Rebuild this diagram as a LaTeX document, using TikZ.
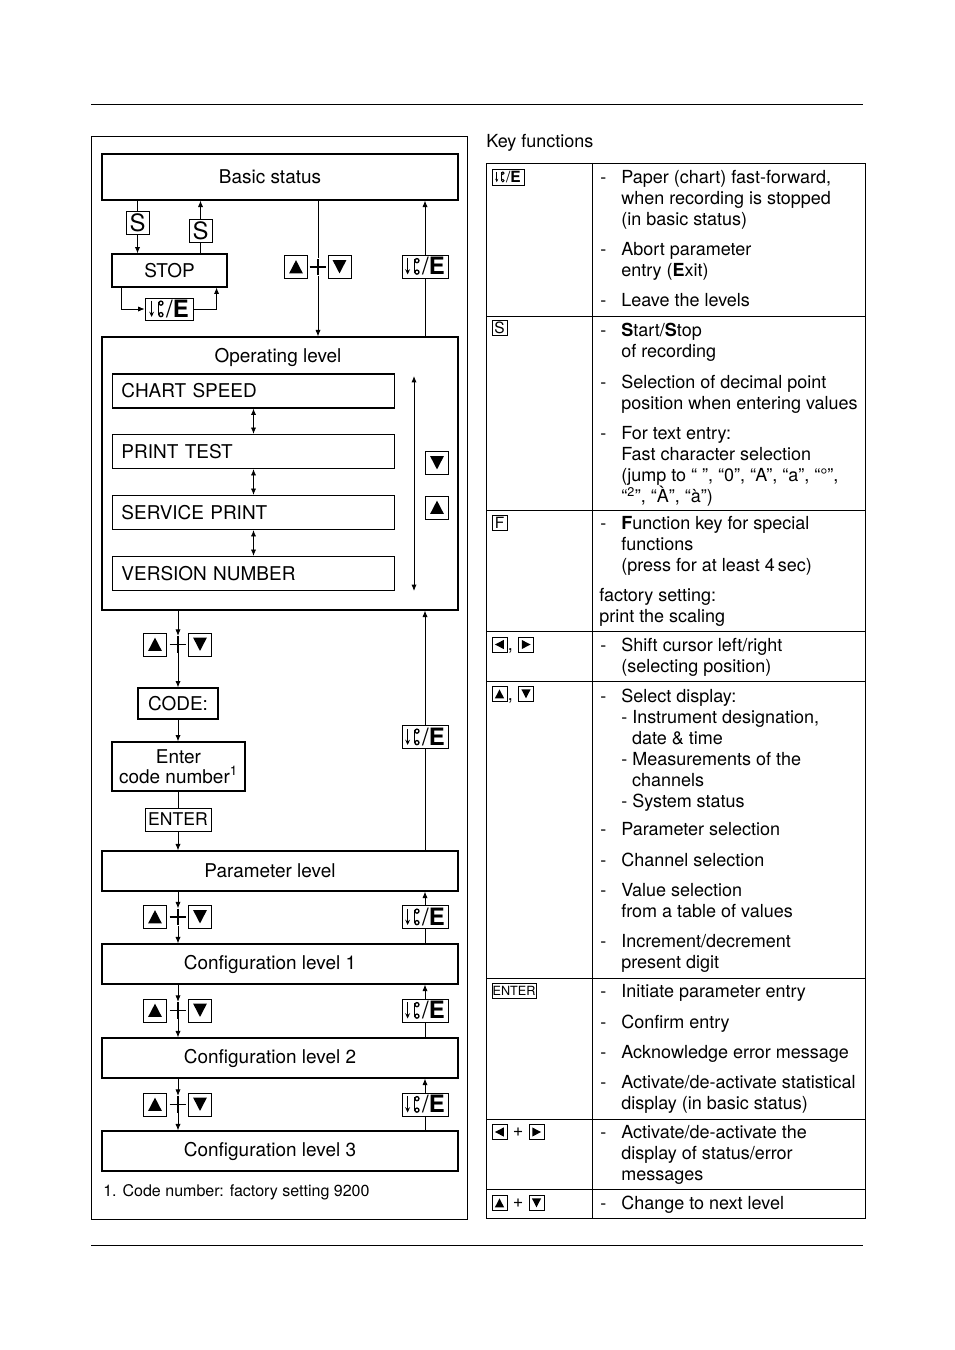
\documentclass[tikz,border=0pt]{standalone}
\usepackage{fontspec}
\setmainfont{TeX Gyre Heros}
\usetikzlibrary{arrows.meta,calc,positioning}

\newcommand{\diagfont}{\fontsize{13.5}{14}\selectfont}
\newcommand{\tabfont}{\fontsize{12.8}{14.9}\selectfont}
\newcommand{\keyfont}{\fontsize{17}{17}\selectfont}
\newcommand{\smallkeyfont}{\fontsize{11}{11}\selectfont}
\newcommand{\footfont}{\fontsize{11.4}{13}\selectfont}

% paper feed symbol, drawn in em units
\newcommand{\feedsym}{\tikz[baseline=0pt,x=1em,y=1em,line width=0.055em]{%
    \draw[-{Stealth[length=0.22em,width=0.2em]}] (0,0.7) -- (0,0.02);
    \draw (0.3,0.1) -- (0.3,0.66);
    \draw (0.39,0.6) circle (0.085);
    \draw (0.39,0.12) circle (0.085);}}
\newcommand{\feedE}{\feedsym\kern0.1em/\textbf{E}}

\tikzset{
  frame/.style={line width=0.6pt},
  level/.style={draw, line width=0.9pt, minimum width=89mm, minimum height=10mm, font=\diagfont,
    execute at end node={\hspace*{5mm}}},
  box/.style={draw, line width=0.8pt, inner sep=1pt, font=\diagfont},
  entry/.style={draw, line width=0.8pt, minimum height=8.5mm, text width=66mm,
    inner xsep=2.25mm, align=left, font=\diagfont},
  key/.style={draw, line width=0.6pt, inner sep=0pt, minimum size=5.75mm},
  feedkey/.style={key, minimum width=11.5mm, font=\keyfont},
  letterkey/.style={key, font=\keyfont},
  smallkey/.style={minimum size=3.8mm, line width=0.5pt, font=\smallkeyfont},
  tri/.style n args={6}{path picture={\fill let \p1=(path picture bounding box.south west),
      \p2=(path picture bounding box.north east) in
      ({\x1+#1*(\x2-\x1)},{\y1+#2*(\y2-\y1)}) --
      ({\x1+#3*(\x2-\x1)},{\y1+#4*(\y2-\y1)}) --
      ({\x1+#5*(\x2-\x1)},{\y1+#6*(\y2-\y1)}) -- cycle;}},
  upkey/.style={key, tri={.2}{.22}{.8}{.22}{.5}{.8}},
  downkey/.style={key, tri={.2}{.8}{.8}{.8}{.5}{.22}},
  leftkey/.style={key, tri={.78}{.2}{.78}{.8}{.2}{.5}},
  rightkey/.style={key, tri={.22}{.2}{.22}{.8}{.8}{.5}},
  plussign/.style={minimum size=4.2mm, inner sep=0pt, path picture={
      \draw[line width=0.9pt] (path picture bounding box.north) -- (path picture bounding box.south)
      (path picture bounding box.west) -- (path picture bounding box.east);}},
  conn/.style={line width=0.6pt},
  arr/.style={conn, -{Latex[length=1.6mm,width=1.3mm]}},
  dbl/.style={conn, {Latex[length=1.6mm,width=1.3mm]}-{Latex[length=1.6mm,width=1.3mm]}},
  dashmark/.style={anchor=base west, inner sep=0pt, font=\tabfont},
  itemtext/.style={anchor=north west, yshift=10.43pt, inner sep=0pt, align=left, font=\tabfont},
  tab/.style={line width=0.6pt}
}

% one item of the key table: name, baseline, text
\newcommand{\keyitem}[3]{%
  \node[dashmark] (#1dash) at (600,#2) {-};
  \node[itemtext] (#1) at (621,#2) {\strut#3};}

\begin{document}
\begin{tikzpicture}[x=0.25mm,y=-0.25mm]
  \useasboundingbox (0,0) rectangle (954,1350);

  % page rules
  \draw[frame] (91,104) -- (863,104);
  \draw[frame] (91,1245) -- (863,1245);

  % left frame
  \draw[frame] (91,136) rectangle (467,1219);

  % basic status and stop
  \node[level, minimum height=11.5mm] (basic) at (280,177) {Basic status};
  \node[letterkey] (s1) at (137.5,223) {S};
  \node[letterkey] (s2) at (200.5,231) {S};
  \node[box, minimum width=28.75mm, minimum height=8.25mm] (stop) at (169.5,270.5) {STOP};
  \node[feedkey, minimum width=12mm, minimum height=5.5mm] (fstop) at (169,309) {\feedE};

  \draw[conn] (basic.south -| s1) -- (s1);
  \draw[arr] (s1) -- (s1 |- stop.north);
  \draw[conn] (stop.north -| s2) -- (s2);
  \draw[arr] (s2) -- (s2 |- basic.south);
  \draw[arr] ([xshift=2.5mm]stop.south west) |- (fstop.west);
  \draw[arr] (fstop.east) -| ([xshift=-2.75mm]stop.south east);

  % operating level
  \node[level, minimum height=68.25mm, execute at end node={}] (oper) at (280,473.5) {};
  \node[font=\diagfont] (opertitle) at (278,357) {Operating level};
  \node[entry] (chart) at (253.5,391) {CHART SPEED};
  \node[entry] (print) at (253.5,451.5) {PRINT TEST};
  \node[entry] (service) at (253.5,512.5) {SERVICE PRINT};
  \node[entry] (version) at (253.5,573.5) {VERSION NUMBER};
  \draw[dbl] (chart) -- (print);
  \draw[dbl] (print) -- (service);
  \draw[dbl] (service) -- (version);
  \coordinate (optop) at (414,376);
  \coordinate (opbot) at (414,591);
  \draw[dbl] (optop) -- (opbot);
  \node[downkey] (opdown) at (437,463) {};
  \node[upkey] (opup) at (437,507.5) {};

  % basic status -> operating level
  \node[upkey] (mu) at (296,267) {};
  \node[plussign] (mp) at (318,267) {};
  \node[downkey] (md) at (339.5,267) {};
  \draw[conn] (basic.south -| mp) -- (mp.north);
  \draw[arr] (mp.south) -- (mp |- oper.north);
  \node[feedkey] (f1) at (425,266.5) {\feedE};
  \draw[conn] (oper.north -| f1) -- (f1);
  \draw[arr] (f1) -- (f1 |- basic.south);

  % code entry
  \node[upkey] (cu) at (155,644.5) {};
  \node[plussign] (cp) at (178,644.5) {};
  \node[downkey] (cd) at (200,644.5) {};
  \draw[arr] (oper.south -| cp) -- (cp.north);
  \node[box, minimum width=20mm, minimum height=7.75mm] (code) at (178,703.5) {CODE:};
  \draw[arr] (cp.south) -- (code.north);
  \node[box, align=center, minimum width=33.25mm, minimum height=12.25mm] (enter) at (178.5,766.5)
    {Enter\\code number\textsuperscript{1}};
  \draw[arr] (code.south) -- (code.south |- enter.north);
  \node[key, minimum width=16.5mm, font=\fontsize{12.5}{12.5}\selectfont] (ek) at (178,819.5) {ENTER};
  \draw[conn] (enter.south -| ek) -- (ek);

  % parameter and configuration levels
  \node[level] (param) at (280,871) {Parameter level};
  \node[level] (conf1) at (280,964) {Configuration level 1};
  \node[level] (conf2) at (280,1058) {Configuration level 2};
  \node[level] (conf3) at (280,1151) {Configuration level 3};
  \draw[arr] (ek) -- (ek |- param.north);

  \node[feedkey] (f2) at (425,737) {\feedE};
  \draw[conn] (param.north -| f2) -- (f2);
  \draw[arr] (f2) -- (f2 |- oper.south);

  \foreach \upperlvl/\lowerlvl/\yk [count=\i] in {param/conf1/917, conf1/conf2/1010.5, conf2/conf3/1104.5}
  {
    \node[upkey] (lu\i) at (155,\yk) {};
    \node[plussign] (lp\i) at (178,\yk) {};
    \node[downkey] (ld\i) at (200,\yk) {};
    \node[feedkey] (lf\i) at (425,\yk) {\feedE};
    \draw[arr] (\upperlvl.south -| lp\i) -- (lp\i.north);
    \draw[arr] (lp\i.south) -- (lp\i |- \lowerlvl.north);
    \draw[conn] (\lowerlvl.north -| lf\i) -- (lf\i);
    \draw[arr] (lf\i) -- (lf\i |- \upperlvl.south);
  }

  \node[anchor=base west, inner sep=0pt, font=\footfont] (note) at (103,1196)
    {1. Code number: factory setting 9200};

  % key functions table
  \node[anchor=base west, inner sep=0pt, font=\tabfont] (keyhead) at (486,148) {Key functions};
  \draw[tab] (486,163) rectangle (865,1218);
  \draw[tab] (592,163) -- (592,1218);
  \foreach \y in {316,510,631,681,978,1119,1189}
    \draw[tab] (486,\y) -- (865,\y);

  \node[feedkey, smallkey, minimum width=8mm, minimum height=4mm] (tfeed) at (508,177) {\feedE};
  \node[letterkey, smallkey] (tstart) at (499.5,328) {S};
  \node[letterkey, smallkey] (tfunc) at (499.5,523) {F};
  \node[leftkey, smallkey] (tleft) at (499.5,644.5) {};
  \node[dashmark] (tcomma1) at (507.5,650) {,};
  \node[rightkey, smallkey] (tright) at (526,644.5) {};
  \node[upkey, smallkey] (tup) at (499.5,694) {};
  \node[dashmark] (tcomma2) at (507.5,700) {,};
  \node[downkey, smallkey] (tdown) at (526,694) {};
  \node[key, smallkey, minimum width=11mm, font=\fontsize{9}{9}\selectfont] (tenter) at (514,990.5) {ENTER};
  \node[leftkey, smallkey] (tleft2) at (499.5,1132) {};
  \node[font=\tabfont, inner sep=0pt] (tplus1) at (518,1132) {+};
  \node[rightkey, smallkey] (tright2) at (536.5,1132) {};
  \node[upkey, smallkey] (tup2) at (499.5,1203) {};
  \node[font=\tabfont, inner sep=0pt] (tplus2) at (518,1203) {+};
  \node[downkey, smallkey] (tdown2) at (536.5,1203) {};

  \keyitem{paper}{183}{Paper (chart) fast-forward,\\when recording is stopped\\(in basic status)}
  \keyitem{abort}{255}{Abort parameter\\entry (\textbf{E}xit)}
  \keyitem{leave}{306}{Leave the levels}
  \keyitem{startstop}{336}{\textbf{S}tart/\textbf{S}top\\of recording}
  \keyitem{decimal}{388}{Selection of decimal point\\position when entering values}
  \keyitem{textentry}{439}{For text entry:\\Fast character selection\\(jump to “ ”, “0”, “A”, “a”, “°”,\\“\textsuperscript{2}”, “À”, “à”)}
  \keyitem{function}{529}{\textbf{F}unction key for special\\functions\\(press for at least 4\,sec)}
  \node[itemtext] (factory) at (599,601) {\strut factory setting:\\print the scaling};
  \keyitem{cursor}{651}{Shift cursor left/right\\(selecting position)}
  \keyitem{display}{702}{Select display:\\- Instrument designation,\\\hspace*{0.6em}date \& time\\- Measurements of the\\\hspace*{0.6em}channels\\- System status}
  \keyitem{parsel}{835}{Parameter selection}
  \keyitem{chansel}{866}{Channel selection}
  \keyitem{valsel}{896}{Value selection\\from a table of values}
  \keyitem{incr}{947}{Increment/decrement\\present digit}
  \keyitem{initiate}{997}{Initiate parameter entry}
  \keyitem{confirm}{1028}{Confirm entry}
  \keyitem{ack}{1058}{Acknowledge error message}
  \keyitem{stat}{1088}{Activate/de-activate statistical\\display (in basic status)}
  \keyitem{errmsg}{1138}{Activate/de-activate the\\display of status/error\\messages}
  \keyitem{nextlvl}{1209}{Change to next level}
\end{tikzpicture}
\end{document}
